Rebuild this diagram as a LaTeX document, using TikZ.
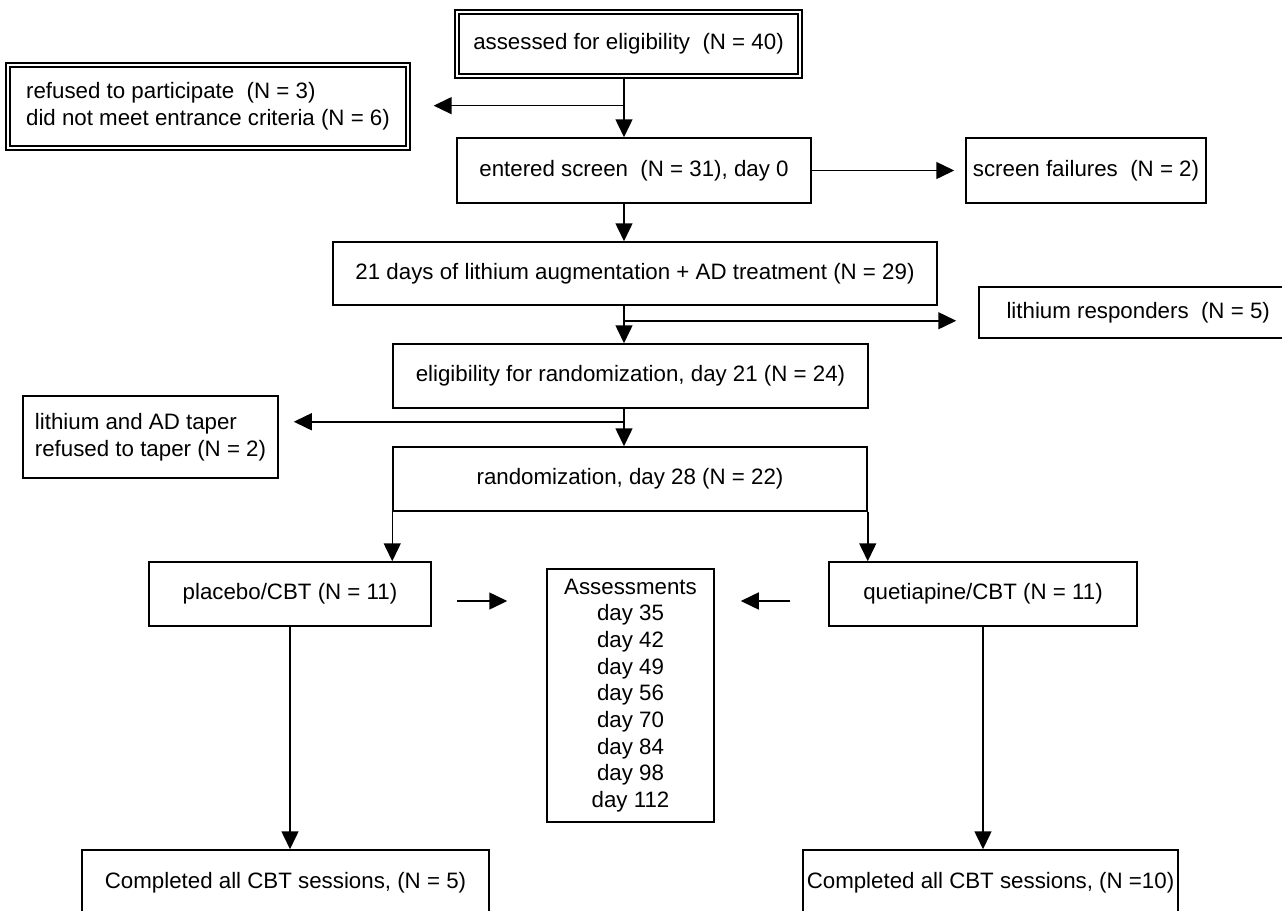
\documentclass[tikz,border=0pt]{standalone}
\usepackage{fontspec}
\setmainfont{Liberation Sans}
\usetikzlibrary{calc,arrows.meta}
\tikzset{flowbox/.style={draw, rectangle, inner sep=2pt, line width=0.75pt,
    font=\fontsize{11.15}{13.35}\selectfont},
  dblbox/.style={flowbox, line width=0.65pt, double, double distance=1.3pt},
  arr/.style={-{Triangle[length=9pt,width=8.5pt]}, line width=0.75pt}}

\begin{document}
\begin{tikzpicture}[x=0.5pt, y=-0.5pt]
  \useasboundingbox (0,0) rectangle (1282,911);
  \clip (0,0) rectangle (1282,911);
  \coordinate (spine) at (624, 0);

  % screening
  \node at (628.5, 44) [dblbox, minimum width=171.5pt, minimum height=32pt] (assess)
    {assessed for eligibility \ (N = 40)};
  \node at (208, 106.5) [dblbox, align=left, minimum width=200pt, minimum height=41.5pt] (refused)
    {refused to participate \ (N = 3)\\did not meet entrance criteria (N = 6)};
  \node at (634, 170.5) [flowbox, minimum width=177pt, minimum height=32.5pt] (entered)
    {entered screen \ (N = 31), day 0};
  \node at (1086, 170.5) [flowbox, minimum width=120pt, minimum height=32.5pt] (failures)
    {screen failures \ (N = 2)};

  % lithium phase
  \node at (635, 273.5) [flowbox, minimum width=302pt, minimum height=31.5pt] (lithaug)
    {21 days of lithium augmentation + AD treatment (N = 29)};
  \node at (1132, 312.5) [flowbox, minimum width=153pt, minimum height=25.5pt] (responders)
    {\ \ lithium responders \ (N = 5)};
  \node at (630.5, 376) [flowbox, minimum width=237.5pt, minimum height=32pt] (eligib)
    {eligibility for randomization, day 21 (N = 24)};
  \node at (150.5, 437) [flowbox, align=left, minimum width=127.5pt, minimum height=41pt] (taper)
    {lithium and AD taper\\refused to taper (N = 2)};
  \node at (630, 479) [flowbox, minimum width=237pt, minimum height=32pt] (random)
    {randomization, day 28 (N = 22)};

  % arms
  \node at (290, 594) [flowbox, minimum width=141pt, minimum height=32pt] (placebo)
    {placebo/CBT (N = 11)};
  \node at (983, 594) [flowbox, minimum width=154pt, minimum height=32pt] (quetia)
    {quetiapine/CBT (N = 11)};
  \node at (630.5, 695.5) [flowbox, align=center, minimum width=83.5pt, minimum height=126.5pt] (assessments)
    {Assessments\\day 35\\day 42\\day 49\\day 56\\day 70\\day 84\\day 98\\day 112};
  \node at (285.5, 883) [flowbox, minimum width=203.5pt, minimum height=33pt] (donepl)
    {Completed all CBT sessions, (N = 5)};
  \node at (990.5, 883) [flowbox, minimum width=187pt, minimum height=33pt] (doneqt)
    {Completed all CBT sessions, (N =10)};

  % main line
  \draw[arr] (assess.south -| spine) -- (entered.north -| spine);
  \draw[arr] (entered.south -| spine) -- (lithaug.north -| spine);
  \draw[arr] (lithaug.south -| spine) -- (eligib.north -| spine);
  \draw[arr] (eligib.south -| spine) -- (random.north -| spine);

  % side exits
  \draw[arr] ($(assess.south -| spine) + (0,29)$) -- ($(refused.east |- assess.south) + (25,29)$);
  \draw[arr] (entered.east) -- ($(failures.west) + (-11,0)$);
  \draw[arr] ($(lithaug.south -| spine) + (0,15)$) -- ($(responders.west |- lithaug.south) + (-22,15)$);
  \draw[arr] ($(eligib.south -| spine) + (0,13)$) -- ($(taper.east |- eligib.south) + (15,13)$);

  \foreach \corner/\arm in {south west/placebo, south east/quetia} {
    \draw[arr] (random.\corner) -- (random.\corner |- \arm.north);
  }
  \foreach \arm/\done in {placebo/donepl, quetia/doneqt} {
    \draw[arr] (\arm.south) -- (\arm.south |- \done.north);
  }

  \draw[arr] ($(placebo.east) + (25,7)$) -- ($(assessments.west |- placebo.east) + (-39,7)$);
  \draw[arr] ($(quetia.west) + (-38,7)$) -- ($(assessments.east |- quetia.west) + (26,7)$);
\end{tikzpicture}
\end{document}
